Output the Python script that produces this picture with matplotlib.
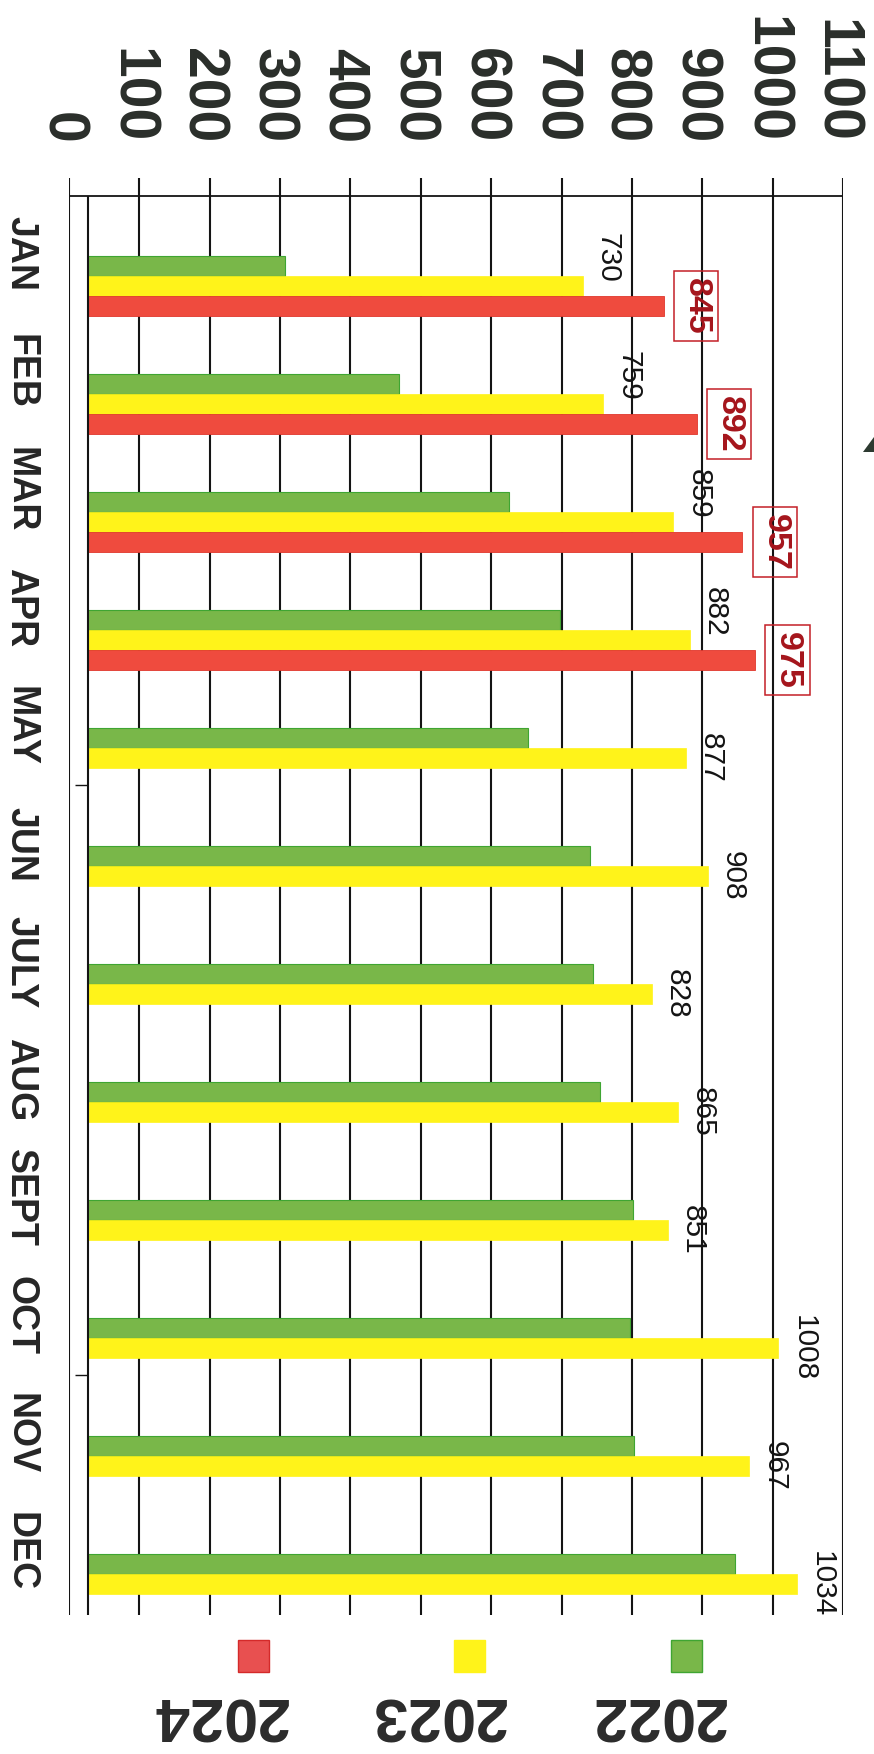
import matplotlib
matplotlib.use('Agg')
import matplotlib.pyplot as plt
from matplotlib.patches import Rectangle, Polygon
from matplotlib.transforms import ScaledTranslation

# ---------------- data ----------------
months = ['JAN', 'FEB', 'MAR', 'APR', 'MAY', 'JUN', 'JULY', 'AUG', 'SEPT', 'OCT', 'NOV', 'DEC']
sales_2022 = [307, 469, 626, 698, 653, 740, 745, 754, 801, 797, 803, 947]
sales_2023 = [730, 759, 859, 882, 877, 908, 828, 865, 851, 1008, 967, 1034]
sales_2024 = [845, 892, 957, 975]
years = ['2022', '2023', '2024']
value_ticks = list(range(0, 1101, 100))

# ---------------- style ----------------
plt.rcParams['font.family'] = ['Liberation Sans', 'DejaVu Sans']
GREEN, GREEN_EDGE = '#79b749', '#3fa532'
YELLOW = '#fff31a'
RED, RED_EDGE = '#ef4b3e', '#e0372c'
BOX_RED, TXT_RED = '#c41f27', '#a5151c'
INK = '#141414'

W, H, DPI = 874, 1754, 100
PT = 72 / DPI  # points per pixel
fig = plt.figure(figsize=(W / DPI, H / DPI), dpi=DPI)
fig.patch.set_facecolor('white')

ax_l, ax_r, ax_t, ax_b = 69, 843, 178, 1615
ax = fig.add_axes([ax_l / W, 1 - ax_b / H, (ax_r - ax_l) / W, (ax_b - ax_t) / H])
row_px = 118.0
y_top = -(254 - ax_t) / row_px
y_bot = y_top + (ax_b - ax_t) / row_px
ax.set_xlim(0, 1100)
ax.set_ylim(y_bot, y_top)
for s in ax.spines.values():
    s.set_visible(False)

bar_h = 20 / row_px
g_off = 2 / row_px
pos = list(range(len(months)))
g_y = [p + g_off + bar_h * 0.5 for p in pos]
y_y = [p + g_off + bar_h * 1.5 for p in pos]
r_y = [p + g_off + bar_h * 2.5 for p in pos[:len(sales_2024)]]

ax.barh(g_y, sales_2022, height=bar_h, color=GREEN, edgecolor=GREEN_EDGE, linewidth=0.8, zorder=3)
ax.barh(y_y, sales_2023, height=bar_h, color=YELLOW, edgecolor=YELLOW, linewidth=0.5, zorder=3)
ax.barh(r_y, sales_2024, height=bar_h, color=RED, edgecolor=RED_EDGE, linewidth=0.6, zorder=3)

# frame / grid
top_line = -(254 - 196) / row_px
inner_x = 27
ax.vlines(value_ticks, y_top, y_bot, color=INK, lw=1.5, zorder=1)
ax.axvspan(0, inner_x, color='white', zorder=4, lw=0)
ax.vlines([0], y_top, y_bot, color=INK, lw=1.5, zorder=5)
ax.vlines([inner_x], top_line, y_bot, color=INK, lw=1.5, zorder=5)
ax.hlines([top_line], 0, 1100, color=INK, lw=1.3, zorder=5)
ax.hlines([4.5, 9.5], 9, inner_x, color=INK, lw=1.0, zorder=5)

# value tick labels on top, rotated
ax.xaxis.set_ticks_position('top')
ax.set_xticks(value_ticks)
ax.set_xticklabels([str(v) for v in value_ticks], rotation=-90, fontsize=41,
                   fontweight='bold', color='#2a2e2a')
ax.tick_params(axis='x', length=0, pad=25)
for lab in ax.get_xticklabels():
    lab.set_ha('center')
    lab.set_va('bottom')
    lab.set_transform(lab.get_transform() + ScaledTranslation(-8 / DPI, 0, fig.dpi_scale_trans))

# month labels on left, rotated
ax.set_yticks(pos)
ax.set_yticklabels(months, rotation=-90, fontsize=27, fontweight='bold', color='#262626')
ax.tick_params(axis='y', length=0, pad=35)
for lab in ax.get_yticklabels():
    lab.set_ha('center')
    lab.set_va('center')

# 2023 value labels
has_2024 = len(sales_2024)
for i, v in enumerate(sales_2023):
    yl = i + 0.03 if i < has_2024 else y_y[i]
    ax.annotate(str(v), xy=(v, yl), xytext=(17 * PT, 0), textcoords='offset points',
                rotation=-90, rotation_mode='anchor', ha='center', va='baseline',
                fontsize=21.5, color=INK, zorder=6, annotation_clip=False)

# 2024 value labels (boxed)
for i, v in enumerate(sales_2024):
    ax.annotate(str(v), xy=(v, r_y[i]), xytext=(17 * PT, 0), textcoords='offset points',
                rotation=-90, ha='left', va='center', fontsize=24.5, fontweight='bold',
                color=TXT_RED, zorder=6, annotation_clip=False,
                bbox=dict(boxstyle='square,pad=0.2', fc='none', ec=BOX_RED, lw=1.1))

# legend (upside-down, as on the page)
leg_colors = [(GREEN, GREEN_EDGE), (YELLOW, YELLOW), ('#e85050', '#d42a2a')]
sq_x = [671, 454, 238]
txt_x = [657, 437, 219]
for (fc, ec), sx, tx, yr in zip(leg_colors, sq_x, txt_x, years):
    fig.add_artist(Rectangle((sx / W, 1 - 1672 / H), 31 / W, 32 / H, transform=fig.transFigure,
                             facecolor=fc, edgecolor=ec, lw=1.0))
    fig.text(tx / W, 1 - 1713 / H, yr, rotation=180, ha='center', va='center',
             fontsize=44, fontweight='bold', color='#2b2b2b')

# scan mark at right edge
fig.add_artist(Polygon([(863 / W, 1 - 452 / H), (874 / W, 1 - 437 / H), (874 / W, 1 - 452 / H)],
                       closed=True, transform=fig.transFigure, facecolor='#2c3a30', edgecolor='none'))

fig.savefig('out.png', dpi=DPI, facecolor='white')
